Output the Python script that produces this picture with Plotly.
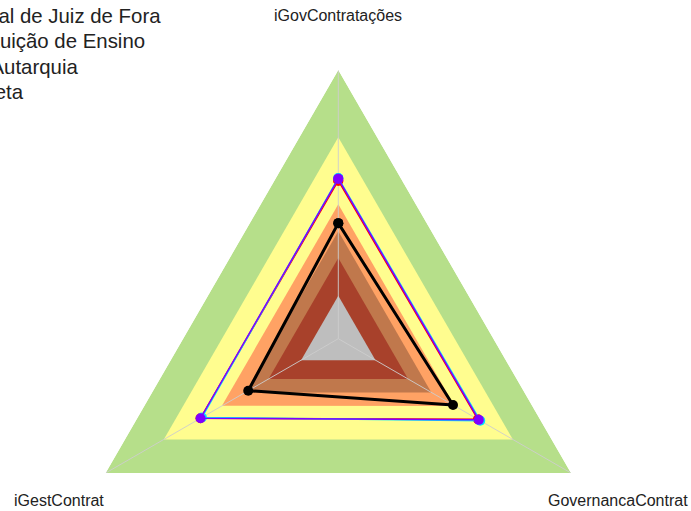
import math
import plotly.graph_objects as go

# Eixos do radar
categories = ["iGovContratações", "iGestContrat", "GovernancaContrat"]

# Faixas de referência (limite externo de cada faixa) e suas cores
band_limits = [1.0, 0.75, 0.5, 0.4, 0.3, 0.16]
band_colors = ["#b6df8a", "#fffd8f", "#ffa264", "#c0784c", "#a8412b", "#bebebe"]

# Séries comparadas
series_names = [
    "Universidade Federal de Juiz de Fora",
    "Tipo de órgão: Instituição de Ensino",
    "Natureza Jurídica: Autarquia",
    "Referência TCU: Meta",
]
ufjf = [0.43, 0.387, 0.493]
inst_ensino = [0.588, 0.592, 0.600]
autarquia = [0.598, 0.586, 0.610]
meta = [0.595, 0.592, 0.604]
series_values = [ufjf, inst_ensino, autarquia, meta]
series_colors = ["#000000", "#ff0000", "#00e5ff", "#8000ff"]

# Geometria da figura (px)
W, H = 691, 700
cx, cy, R = 338.3, 338.7, 268.7
label_dist = 323


def closed(seq):
    return list(seq) + [seq[0]]


fig = go.Figure()

# Faixas preenchidas, da maior para a menor
for lim, col in zip(band_limits, band_colors):
    fig.add_trace(go.Scatterpolar(
        r=closed([lim] * len(categories)),
        theta=closed(categories),
        mode="lines",
        fill="toself",
        fillcolor=col,
        line=dict(width=0, color=col),
        hoverinfo="skip",
        showlegend=False,
    ))

# Raios de cada eixo sobre as faixas
for cat in categories:
    fig.add_trace(go.Scatterpolar(
        r=[0, band_limits[0]],
        theta=[cat, cat],
        mode="lines",
        line=dict(width=1, color="rgba(205,205,205,0.9)"),
        hoverinfo="skip",
        showlegend=False,
    ))

for name, vals, col in zip(series_names, series_values, series_colors):
    is_main = col == "#000000"
    fig.add_trace(go.Scatterpolar(
        r=closed(vals),
        theta=closed(categories),
        mode="lines+markers",
        name='<span style="font-size:20.4px">' + name + "</span>",
        line=dict(color=col, width=3 if is_main else 1.5),
        marker=dict(color=col, size=10),
    ))

# Rótulos dos eixos
annotations = []
for i, cat in enumerate(categories):
    ang = math.radians(90 + 120 * i)
    px = cx + label_dist * math.cos(ang)
    py = cy - label_dist * math.sin(ang)
    annotations.append(dict(
        x=px / W, y=1 - py / H, xref="paper", yref="paper",
        text=cat, showarrow=False, xanchor="center", yanchor="middle",
        font=dict(size=16, color="#222222"),
    ))

fig.update_layout(
    width=W, height=H,
    margin=dict(l=0, r=0, t=0, b=0, autoexpand=False),
    paper_bgcolor="white",
    plot_bgcolor="white",
    font=dict(family="Liberation Sans, Arial, sans-serif", color="#222222"),
    showlegend=True,
    legend=dict(
        x=-219.5 / W, y=1 + 1.5 / H, xanchor="left", yanchor="top",
        font=dict(size=17.2, color="#222222"),
        bgcolor="rgba(0,0,0,0)",
    ),
    polar=dict(
        domain=dict(x=[(cx - R) / W, (cx + R) / W],
                    y=[1 - (cy + R) / H, 1 - (cy - R) / H]),
        bgcolor="rgba(0,0,0,0)",
        gridshape="linear",
        angularaxis=dict(rotation=90, direction="counterclockwise",
                         showticklabels=False, ticks="", showline=False,
                         showgrid=False),
        radialaxis=dict(range=[0, 1], visible=False, showgrid=False),
    ),
    annotations=annotations,
)

fig.write_html(
    "out.html",
    post_script="document.documentElement.style.overflow='hidden';"
                "document.body.style.overflow='hidden';",
)
